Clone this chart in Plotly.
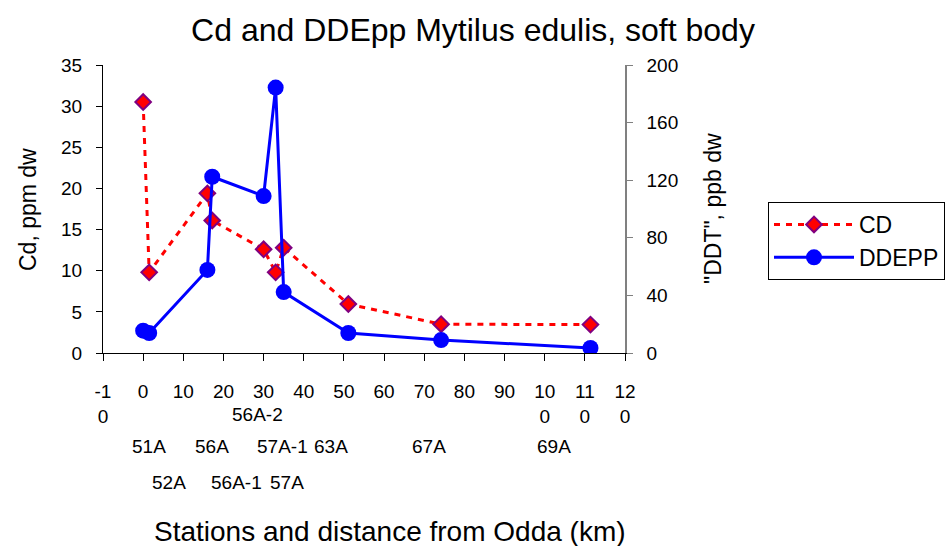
import plotly.graph_objects as go

# ---- data ----
station_km = [0, 1.5, 16, 17.2, 30, 33, 35, 51.1, 74.2, 111.4]
cd_ppm = [30.5, 9.8, 19.4, 16.1, 12.6, 9.8, 12.8, 5.95, 3.5, 3.45]
dde_ppb = [15.5, 13.9, 57.7, 122.4, 109, 184.3, 42.3, 13.9, 9.0, 3.5]

x_tickvals = [-10, 0, 10, 20, 30, 40, 50, 60, 70, 80, 90, 100, 110, 120]
x_ticktext = ["-1<br>0", "0", "10", "20", "30", "40", "50", "60", "70", "80",
              "90", "10<br>0", "11<br>0", "12<br>0"]

station_labels = ["51A", "56A", "57A-1", "63A", "67A", "69A",
                  "52A", "56A-1", "57A", "56A-2"]
# label layout (x in km units, row index)
station_label_x = [1.5, 17.2, 34.6, 46.9, 71.2, 102.2, 6.5, 23.2, 35.9, 28.4]
station_label_row = [1, 1, 1, 1, 1, 1, 2, 2, 2, 0]
row_y = {0: -0.212, 1: -0.326, 2: -0.451}

FONT = "Arial, Liberation Sans, sans-serif"

fig = go.Figure()
fig.add_trace(go.Scatter(
    x=station_km, y=cd_ppm, name="CD", mode="lines+markers",
    line=dict(color="#FF0000", width=3, dash="6px,6px"),
    marker=dict(symbol="diamond", size=12, color="#FF0000",
                line=dict(color="#800080", width=2)),
    legendgroup="a", yaxis="y"))
fig.add_trace(go.Scatter(
    x=station_km, y=dde_ppb, name="DDEPP", mode="lines+markers",
    line=dict(color="#0000FF", width=3),
    marker=dict(symbol="circle", size=16, color="#0000FF"),
    legendgroup="b", yaxis="y2"))

annotations = []
for lab, lx, r in zip(station_labels, station_label_x, station_label_row):
    annotations.append(dict(text=lab, x=lx, xref="x", y=row_y[r], yref="paper",
                            showarrow=False, xanchor="center", yanchor="middle",
                            font=dict(size=19, color="black", family=FONT)))
annotations += [
    dict(text="Stations and distance from Odda (km)", x=0.55, xref="paper",
         y=-0.62, yref="paper", showarrow=False, xanchor="center", yanchor="middle",
         font=dict(size=28, color="black", family=FONT)),
    dict(text="Cd, ppm dw", x=-0.1437, xref="paper", y=0.5, yref="paper",
         textangle=-90, showarrow=False, xanchor="center", yanchor="middle",
         font=dict(size=23, color="black", family=FONT)),
    dict(text="\"DDT\", ppb dw", x=(713 - 103) / 522, xref="paper", y=0.5, yref="paper",
         textangle=-90, showarrow=False, xanchor="center", yanchor="middle",
         font=dict(size=23, color="black", family=FONT)),
]

fig.update_layout(
    width=946, height=546,
    margin=dict(l=103, r=321, t=65, b=193, autoexpand=False),
    paper_bgcolor="white", plot_bgcolor="white",
    font=dict(family=FONT, color="black", size=19),
    title=dict(text="Cd and DDEpp Mytilus edulis, soft body", x=0.5, xanchor="center",
               y=1 - 30 / 546, yanchor="middle", yref="container",
               font=dict(size=32, color="black", family=FONT)),
    xaxis=dict(range=[-10, 120], tickvals=x_tickvals, ticktext=x_ticktext,
               showgrid=False, zeroline=False, showline=True, linecolor="black",
               linewidth=1, ticks="outside", ticklen=7, tickcolor="black",
               ticklabelstandoff=14, tickfont=dict(size=19), automargin=False),
    yaxis=dict(range=[0, 35], dtick=5, showgrid=False, zeroline=False,
               showline=True, linecolor="black", linewidth=1, ticks="outside",
               ticklen=6, tickcolor="black", ticklabelstandoff=10,
               tickfont=dict(size=19), automargin=False),
    yaxis2=dict(range=[0, 200], dtick=40, overlaying="y", side="right",
                showgrid=False, zeroline=False, showline=True, linecolor="#808080",
                linewidth=1.5, ticks="outside", ticklen=6, tickcolor="#808080",
                ticklabelstandoff=10, tickfont=dict(size=19), automargin=False),
    legend=dict(x=(768 - 103) / 522, xanchor="left", y=(353 - 202) / 288,
                yanchor="top", bordercolor="black", borderwidth=1,
                bgcolor="white", font=dict(size=23, color="black", family=FONT),
                itemwidth=80, traceorder="normal"),
    annotations=annotations,
    showlegend=True,
)

fig.write_html(
    "out.html",
    config={"displayModeBar": False},
    post_script="document.body.style.margin='0';document.body.style.padding='0';"
                "document.documentElement.style.overflow='hidden';",
)
